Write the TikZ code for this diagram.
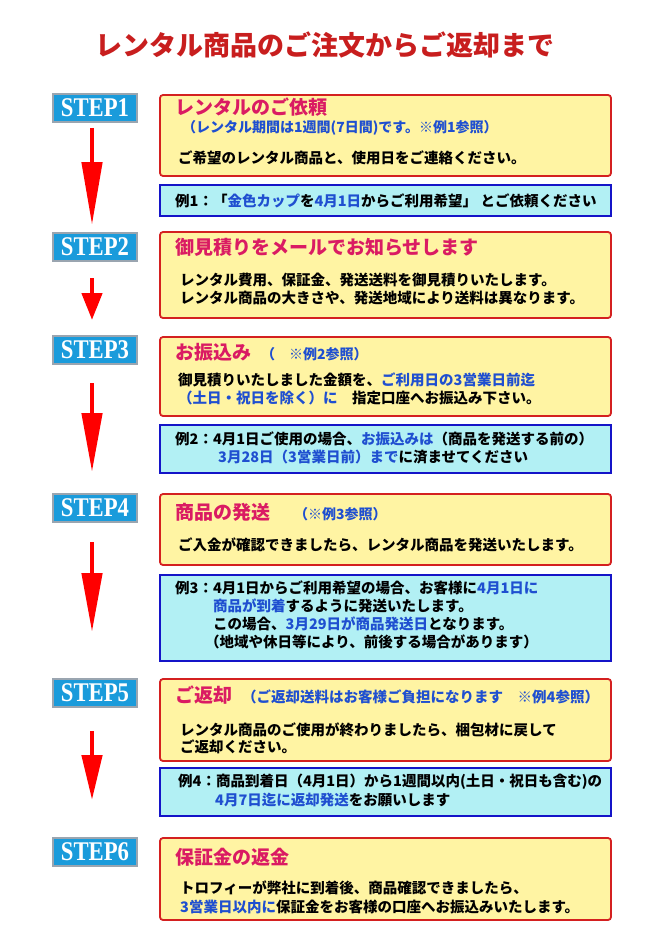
\documentclass[tikz,border=0pt]{standalone}
\usepackage{fontspec}
\setmainfont{Noto Sans CJK JP}
\newfontfamily\stepfont{Liberation Serif}[FakeStretch=0.84]
\usetikzlibrary{arrows.meta, positioning}
\definecolor{inkred}{HTML}{C81E1E}
\definecolor{inkpink}{HTML}{DA1B63}
\definecolor{inkblue}{HTML}{1F4FD0}
\definecolor{inkstep}{HTML}{1A9BDB}
\definecolor{inkgrey}{HTML}{9AA5B0}
\definecolor{inkbox}{HTML}{D42020}
\definecolor{inkyellow}{HTML}{FFF4A3}
\definecolor{inknote}{HTML}{1414C8}
\definecolor{inkcyan}{HTML}{B2F0F4}
\definecolor{inkarrow}{HTML}{FF0000}
\newcommand{\bluetxt}[1]{\textcolor{inkblue}{#1}}

\begin{document}
\begin{tikzpicture}[x=1pt, y=-1pt,
  stepbox/.style={draw=inkgrey, line width=2pt, fill=inkstep, text=white,
    minimum width=84pt, minimum height=28pt, inner sep=0pt,
    font=\stepfont\bfseries\fontsize{27}{27}\selectfont},
  mainbox/.style={draw=inkbox, line width=1.8pt, fill=inkyellow,
    rounded corners=3pt, minimum width=451pt},
  notebox/.style={draw=inknote, line width=1.8pt, fill=inkcyan,
    minimum width=451pt},
  steptitle/.style={anchor=west, inner sep=0pt, text=inkpink,
    font=\bfseries\fontsize{19}{22}\selectfont},
  bodytext/.style={anchor=west, inner sep=0pt, align=left,
    font=\bfseries\fontsize{14.5}{18}\selectfont},
  flow/.style={draw=inkarrow, line width=4.6pt,
    -{Triangle[length=#1, width=20pt]}}]
  \useasboundingbox (0,0) rectangle (670,947);

  \node[font=\bfseries\fontsize{27}{30}\selectfont, text=inkred]
    (title) at (325,45) {レンタル商品のご注文からご返却まで};

  % step badges, boxes and notes
  \foreach \n/\y in {1/108, 2/247, 3/350, 4/508, 5/693, 6/852}
    \node[stepbox] (s\n) at (95,\y) {STEP\n};
  \foreach \n/\y/\h in {1/135.5/81, 2/275/86, 3/376.5/79, 4/529.5/71,
                        5/720/82, 6/879/82}
    \node[mainbox, minimum height=\h pt] (b\n) at (385.5,\y) {};
  \foreach \n/\y/\h in {1/200.5/31, 2/449/48, 3/618/86, 4/792/48}
    \node[notebox, minimum height=\h pt] (e\n) at (385.5,\y) {};

  % arrows
  \foreach \n/\ya/\yb/\hd in {1/128/225/63, 2/278/320/27, 3/383/472/59,
                              4/542/632/59, 5/731/800/45}{
    \coordinate (top\n) at (92,\ya);
    \coordinate (tip\n) at (92,\yb);
    \draw[flow=\hd pt] (top\n) -- (tip\n);
  }

  % step 1
  \node[steptitle] (b1title) at (175,107) {レンタルのご依頼};
  \node[bodytext, text=inkblue, font=\bfseries\fontsize{14}{17}\selectfont]
    (b1sub) at (182,128) {（レンタル期間は1週間(7日間)です。※例1参照）};
  \node[bodytext] (b1text) at (178,158) {ご希望のレンタル商品と、使用日をご連絡ください。};
  \node[bodytext] (e1text) at (175,201)
    {例1：「\bluetxt{金色カップ}を\bluetxt{4月1日}からご利用希望」 とご依頼ください};

  % step 2
  \node[steptitle] (b2title) at (175,247) {御見積りをメールでお知らせします};
  \node[bodytext] (b2text) at (180,289)
    {レンタル費用、保証金、発送送料を御見積りいたします。\\
     レンタル商品の大きさや、発送地域により送料は異なります。};

  % step 3
  \node[steptitle] (b3title) at (175,352)
    {お振込み\hspace{10pt}{\color{inkblue}\fontsize{14}{17}\selectfont （　※例2参照）}};
  \node[bodytext] (b3text) at (178,389)
    {御見積りいたしました金額を、\bluetxt{ご利用日の3営業日前迄}\\
     \bluetxt{（土日・祝日を除く）に}　指定口座へお振込み下さい。};
  \node[bodytext] (e2text) at (175,447.5)
    {例2：4月1日ご使用の場合、\bluetxt{お振込みは}（商品を発送する前の）\\
     \hspace*{43pt}\bluetxt{3月28日（3営業日前）まで}に済ませてください};

  % step 4
  \node[steptitle] (b4title) at (175,512)
    {商品の発送\hspace{24pt}{\color{inkblue}\fontsize{14}{17}\selectfont （※例3参照）}};
  \node[bodytext] (b4text) at (178,545) {ご入金が確認できましたら、レンタル商品を発送いたします。};
  \node[bodytext] (e3text) at (175,615)
    {例3：4月1日からご利用希望の場合、お客様に\bluetxt{4月1日に}\\
     \hspace*{38pt}\bluetxt{商品が到着}するように発送いたします。\\
     \hspace*{38pt}この場合、\bluetxt{3月29日が商品発送日}となります。\\
     \hspace*{30pt}（地域や休日等により、前後する場合があります）};

  % step 5
  \node[steptitle] (b5title) at (175,695)
    {ご返却\hspace{10pt}{\color{inkblue}\fontsize{14.5}{17}\selectfont （ご返却送料はお客様ご負担になります　※例4参照）}};
  \node[bodytext, font=\bfseries\fontsize{14.5}{17}\selectfont] (b5text) at (180,738.5)
    {レンタル商品のご使用が終わりましたら、梱包材に戻して\\
     ご返却ください。};
  \node[bodytext, font=\bfseries\fontsize{14.5}{19}\selectfont] (e4text) at (178,790.5)
    {例4：商品到着日（4月1日）から1週間以内(土日・祝日も含む)の\\
     \hspace*{37pt}\bluetxt{4月7日迄に返却発送}をお願いします};

  % step 6
  \node[steptitle] (b6title) at (175,857) {保証金の返金};
  \node[bodytext, font=\bfseries\fontsize{14.5}{19}\selectfont] (b6text) at (180,897.5)
    {トロフィーが弊社に到着後、商品確認できましたら、\\
     \bluetxt{3営業日以内に}保証金をお客様の口座へお振込みいたします。};
\end{tikzpicture}
\end{document}
